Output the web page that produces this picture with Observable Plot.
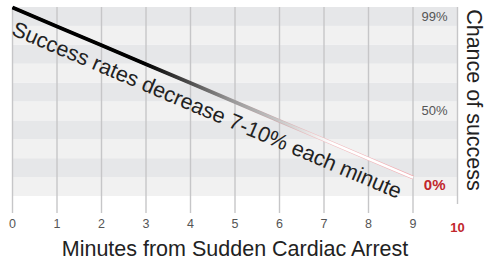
<!DOCTYPE html>
<html>
<head>
<meta charset="utf-8">
<script src="https://cdn.jsdelivr.net/npm/d3@7"></script>
<script src="https://cdn.jsdelivr.net/npm/@observablehq/plot@0.6"></script>
<style>
  html, body { margin: 0; padding: 0; background: #fff; }
  svg { font-family: "Liberation Sans", Arial, Helvetica, sans-serif; }
</style>
</head>
<body>
<div id="chart"></div>
<script>
// Data
const minutes = [0, 1, 2, 3, 4, 5, 6, 7, 8, 9];
const chance = [100, 90, 80, 70, 60, 50, 40, 30, 20, 10];
const xTicks = [0, 1, 2, 3, 4, 5, 6, 7, 8, 9];
const xEndTick = [10];
const bandStarts = [0, 10, 20, 30, 40, 50, 60, 70, 80, 90];
const yLabelsTop = ["99%"];
const yLabelsMid = ["50%"];
const yLabelsLow = ["0%"];
const annotation = "Success rates decrease 7-10% each minute";
const xTitle = "Minutes from Sudden Cardiac Arrest";
const yTitle = "Chance of success";

const lineData = minutes.map((m, i) => ({minute: m, chance: chance[i]}));
const bands = bandStarts.map((b, i) => ({y1: b, y2: b + 10, dark: i % 2 === 1}));

const W = 489, H = 262;
const mL = 12, mR = 32, mT = 7, mB = 66;
const pxPerX = (W - mL - mR) / 10;
const pxPerY = (H - mT - mB) / 100;
const angle = Math.atan((pxPerY * 10) / pxPerX) * 180 / Math.PI;

const defs = () => {
  const d = d3.create("svg:defs");
  const g1 = d.append("linearGradient").attr("id", "fadeInner").attr("x1", 0).attr("x2", 1).attr("y1", 0).attr("y2", 0);
  g1.append("stop").attr("offset", "0").attr("stop-color", "#000");
  g1.append("stop").attr("offset", "0.33").attr("stop-color", "#000");
  g1.append("stop").attr("offset", "0.55").attr("stop-color", "#999");
  g1.append("stop").attr("offset", "0.8").attr("stop-color", "#fff");
  g1.append("stop").attr("offset", "1").attr("stop-color", "#fff");
  const g2 = d.append("linearGradient").attr("id", "fadeOuter").attr("x1", 0).attr("x2", 1).attr("y1", 0).attr("y2", 0);
  g2.append("stop").attr("offset", "0").attr("stop-color", "#000");
  g2.append("stop").attr("offset", "0.33").attr("stop-color", "#000");
  g2.append("stop").attr("offset", "0.55").attr("stop-color", "#a09a9b");
  g2.append("stop").attr("offset", "0.75").attr("stop-color", "#f0c0c3");
  g2.append("stop").attr("offset", "1").attr("stop-color", "#f2a9ae");
  return d.node();
};

const chart = Plot.plot({
  width: W,
  height: H,
  marginLeft: mL,
  marginRight: mR,
  marginTop: mT,
  marginBottom: mB,
  x: {domain: [0, 10], axis: null},
  y: {domain: [0, 100], axis: null},
  style: {background: "#fff", overflow: "visible"},
  marks: [
    defs,
    Plot.rectY(bands, {x1: 0, x2: 10, y1: "y1", y2: "y2", fill: d => d.dark ? "#e6e7e9" : "#f1f1f1"}),
    Plot.ruleX(xTicks, {x: d => d, stroke: "#c6c6c8", strokeWidth: 1.4, insetBottom: -17}),
    Plot.ruleX(xEndTick, {x: d => d, stroke: "#c6c6c8", strokeWidth: 1.4, insetBottom: -8}),
    Plot.line(lineData, {x: "minute", y: "chance", stroke: "url(#fadeOuter)", strokeWidth: 3.8, strokeLinecap: "butt"}),
    Plot.line(lineData, {x: "minute", y: "chance", stroke: "url(#fadeInner)", strokeWidth: 2.6, strokeLinecap: "butt"}),
    Plot.text([annotation], {x: minutes[0], y: chance[0], text: d => d, rotate: angle, textAnchor: "start", lineAnchor: "bottom", dx: -2, dy: 27, fontSize: 21.5, fill: "#222"}),
    Plot.text(xTicks, {x: d => d, frameAnchor: "bottom", text: d => String(d), dy: 27.5, lineAnchor: "middle", fontSize: 12.5, fill: "#555"}),
    Plot.text(xEndTick, {x: d => d, frameAnchor: "bottom", text: d => String(d), dy: 31.5, lineAnchor: "middle", fontSize: 13, fontWeight: "bold", fill: "#c1272d"}),
    Plot.text(yLabelsTop, {x: 10, y: 99, text: d => d, textAnchor: "end", lineAnchor: "middle", dx: -10, dy: 7, fontSize: 13, fill: "#555"}),
    Plot.text(yLabelsMid, {x: 10, y: 50, text: d => d, textAnchor: "end", lineAnchor: "middle", dx: -10, dy: 8.5, fontSize: 13, fill: "#555"}),
    Plot.text(yLabelsLow, {x: 10, y: 0, text: d => d, textAnchor: "end", lineAnchor: "middle", dx: -12, dy: -11, fontSize: 15, fontWeight: "bold", fill: "#c1272d"}),
    Plot.text([xTitle], {frameAnchor: "bottom", text: d => d, dy: 53, lineAnchor: "middle", fontSize: 21.5, fill: "#222"}),
    Plot.text([yTitle], {frameAnchor: "right", text: d => d, rotate: 90, textAnchor: "middle", dx: 16, dy: -2, lineAnchor: "middle", fontSize: 21.5, fill: "#222"})
  ]
});
document.getElementById("chart").appendChild(chart);
</script>
</body>
</html>
